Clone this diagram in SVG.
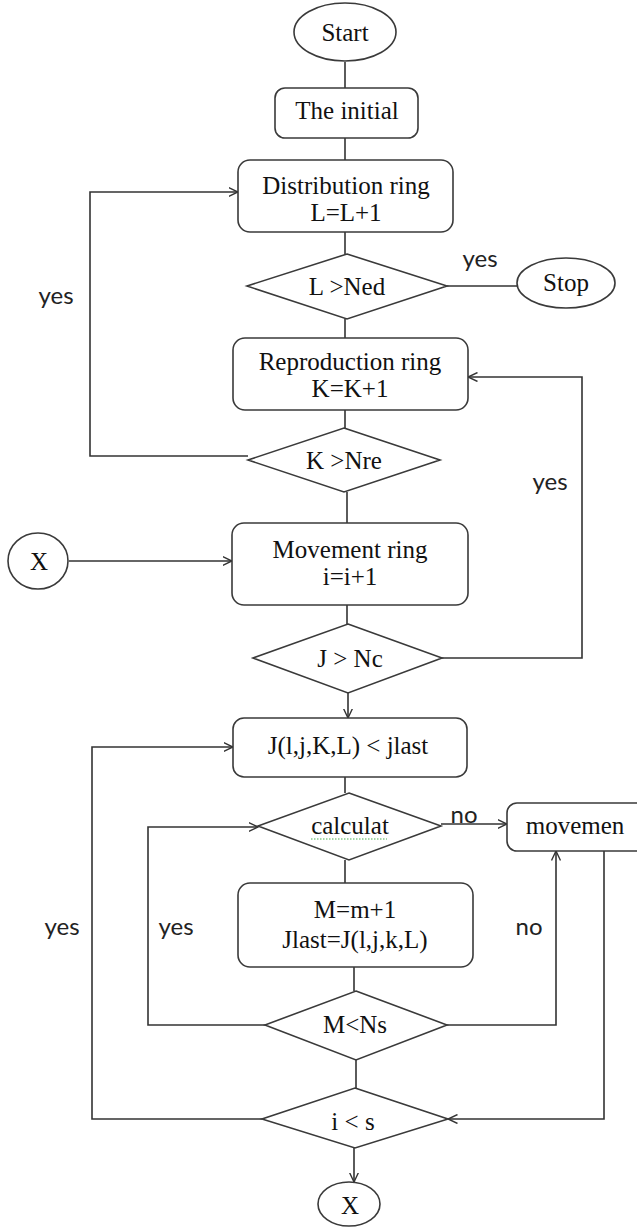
<svg xmlns="http://www.w3.org/2000/svg" width="637" height="1228" viewBox="0 0 637 1228">
  <style>
    .shape { fill: #ffffff; stroke: #3a3a3a; stroke-width: 1.6; }
    .wire { fill: none; stroke: #333333; stroke-width: 1.6; }
    .t { font-family: "Liberation Serif", "Times New Roman", serif; font-size: 25px; fill: #111111; text-anchor: middle; }
    .lbl { font-family: Lato, "Open Sans", "Liberation Sans", sans-serif; font-size: 24px; fill: #222222; text-anchor: middle; }
  </style>
  <defs>
    <marker id="arrow" viewBox="0 0 10 10" refX="9.5" refY="5" markerWidth="10" markerHeight="10" markerUnits="userSpaceOnUse" orient="auto">
      <path d="M0,0.5 L9.5,5 L0,9.5" fill="none" stroke="#333333" stroke-width="1.4"/>
    </marker>
  </defs>

  <rect width="637" height="1228" fill="#ffffff"/>

  <!-- connectors -->
  <g id="connectors">
    <path class="wire" d="M345,62 V88"/>
    <path class="wire" d="M345,138 V160"/>
    <path class="wire" d="M345,232 V254"/>
    <path class="wire" d="M447,286 H517"/>
    <path class="wire" d="M345,319 V338"/>
    <path class="wire" d="M345,410 V428"/>
    <path class="wire" d="M248,456 H90 V192 H238" marker-end="url(#arrow)"/>
    <path class="wire" d="M347,492 V523"/>
    <path class="wire" d="M69,561 H232" marker-end="url(#arrow)"/>
    <path class="wire" d="M347,605 V624"/>
    <path class="wire" d="M442,658 H582 V377 H468" marker-end="url(#arrow)"/>
    <path class="wire" d="M348,693 V718" marker-end="url(#arrow)"/>
    <path class="wire" d="M345,777 V793"/>
    <path class="wire" d="M441,824 H507" marker-end="url(#arrow)"/>
    <path class="wire" d="M345,860 V883"/>
    <path class="wire" d="M354,967 V991"/>
    <path class="wire" d="M265,1025 H148 V827 H258" marker-end="url(#arrow)"/>
    <path class="wire" d="M447,1025 H556 V851" marker-end="url(#arrow)"/>
    <path class="wire" d="M356,1060 V1088"/>
    <path class="wire" d="M604,851 V1119 H448" marker-end="url(#arrow)"/>
    <path class="wire" d="M262,1119 H92 V747 H233" marker-end="url(#arrow)"/>
    <path class="wire" d="M354,1148 V1182" marker-end="url(#arrow)"/>

    <text class="lbl" x="480" y="267">yes</text>
    <text class="lbl" x="56" y="304">yes</text>
    <text class="lbl" x="550" y="490">yes</text>
    <text class="lbl" x="464" y="823">no</text>
    <text class="lbl" x="62" y="935">yes</text>
    <text class="lbl" x="176" y="935">yes</text>
    <text class="lbl" x="529" y="935">no</text>
  </g>

  <g id="start">
    <ellipse class="shape" cx="345" cy="32" rx="51" ry="29"/>
    <text class="t" x="345" y="41">Start</text>
  </g>

  <g id="initial">
    <rect class="shape" x="275" y="88" width="143" height="50" rx="10"/>
    <text class="t" x="347" y="119">The initial</text>
  </g>

  <g id="distribution">
    <rect class="shape" x="238" y="160" width="215" height="72" rx="12"/>
    <text class="t" x="346" y="194">Distribution ring</text>
    <text class="t" x="346" y="221">L=L+1</text>
  </g>

  <g id="check-ned">
    <polygon class="shape" points="347,254 447,286 347,319 247,286"/>
    <text class="t" x="347" y="295">L &gt;Ned</text>
  </g>

  <g id="stop">
    <ellipse class="shape" cx="566" cy="283" rx="49" ry="25"/>
    <text class="t" x="566" y="291">Stop</text>
  </g>

  <g id="reproduction">
    <rect class="shape" x="233" y="338" width="235" height="72" rx="12"/>
    <text class="t" x="350" y="370">Reproduction ring</text>
    <text class="t" x="350" y="397">K=K+1</text>
  </g>

  <g id="check-nre">
    <polygon class="shape" points="344,428 440,460 344,492 248,460"/>
    <text class="t" x="344" y="469">K &gt;Nre</text>
  </g>

  <g id="connector-x-in">
    <ellipse class="shape" cx="38" cy="561" rx="30" ry="28"/>
    <text class="t" x="39" y="570">X</text>
  </g>

  <g id="movement">
    <rect class="shape" x="232" y="523" width="236" height="82" rx="12"/>
    <text class="t" x="350" y="558">Movement ring</text>
    <text class="t" x="350" y="585">i=i+1</text>
  </g>

  <g id="check-nc">
    <polygon class="shape" points="348,624 442,658 348,693 253,658"/>
    <text class="t" x="350" y="667">J &gt; Nc</text>
  </g>

  <g id="cost-compare">
    <rect class="shape" x="233" y="718" width="234" height="59" rx="11"/>
    <text class="t" x="348" y="754">J(l,j,K,L) &lt; jlast</text>
  </g>

  <g id="calculat">
    <polygon class="shape" points="349,793 441,826 349,860 258,826"/>
    <text class="t" x="350" y="834">calculat</text>
    <line x1="311" y1="839" x2="387" y2="839" stroke="#4caf50" stroke-width="1.2" stroke-dasharray="1.5,1.5"/>
  </g>

  <g id="movemen">
    <rect class="shape" x="507" y="803" width="140" height="48" rx="10"/>
    <text class="t" x="575" y="834">movemen</text>
  </g>

  <g id="update">
    <rect class="shape" x="238" y="883" width="235" height="84" rx="12"/>
    <text class="t" x="355" y="918">M=m+1</text>
    <text class="t" x="355" y="948">Jlast=J(l,j,k,L)</text>
  </g>

  <g id="check-ns">
    <polygon class="shape" points="356,991 447,1025 356,1060 265,1025"/>
    <text class="t" x="355" y="1033">M&lt;Ns</text>
  </g>

  <g id="check-s">
    <polygon class="shape" points="355,1088 448,1119 355,1148 262,1119"/>
    <text class="t" x="353" y="1130">i &lt; s</text>
  </g>

  <g id="connector-x-out">
    <ellipse class="shape" cx="349" cy="1204" rx="31" ry="22"/>
    <text class="t" x="350" y="1214">X</text>
  </g>
</svg>
